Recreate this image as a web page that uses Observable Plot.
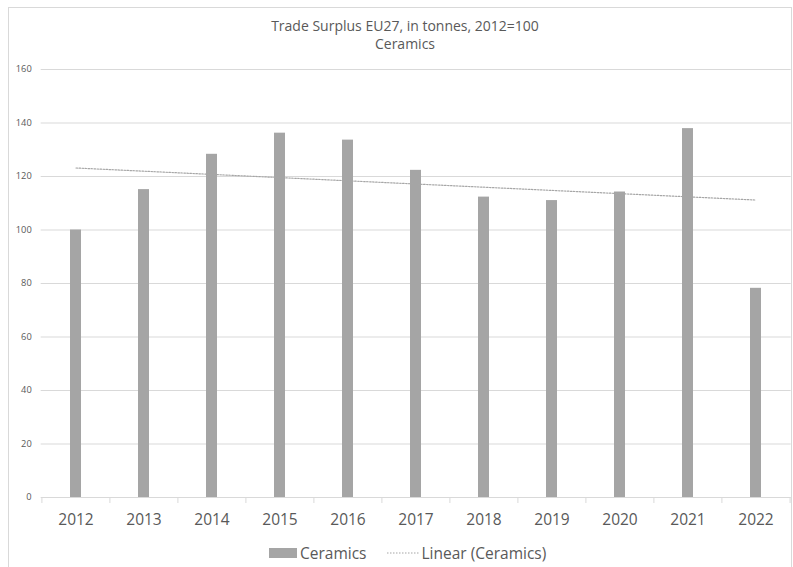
<!DOCTYPE html>
<html>
<head>
<meta charset="utf-8">
<script src="https://cdn.jsdelivr.net/npm/d3@7"></script>
<script src="https://cdn.jsdelivr.net/npm/@observablehq/plot@0.6"></script>
<style>
  body { margin: 0; background: #fff; font-family: "Open Sans", sans-serif; color: #595959; }
  #chart { position: relative; width: 793px; height: 567px; overflow: hidden; background: #fff; }
  #frame { position: absolute; left: 8px; top: 7px; width: 784px; height: 600px; border: 1px solid #d9d9d9; box-sizing: border-box; }
  .title { position: absolute; left: 8px; width: 794px; text-align: center; font-size: 14px; line-height: 14px; white-space: nowrap; }
  #plot { position: absolute; left: 0; top: 0; }
  #legend { position: absolute; left: 269px; top: 544px; display: flex; align-items: center; font-size: 15.5px; line-height: 18px; white-space: nowrap; }
  #legend .swatch { width: 28px; height: 10px; background: #a5a5a5; margin-right: 3px; }
  #legend svg { margin-left: 20px; margin-right: 3px; }
</style>
</head>
<body>
<div id="chart">
  <div id="frame"></div>
  <div id="plot"></div>
  <div class="title" style="top:19px">Trade Surplus EU27, in tonnes, 2012=100</div>
  <div class="title" style="top:37px">Ceramics</div>
  <div id="legend">
    <div class="swatch"></div><span>Ceramics</span>
    <svg width="32" height="4"><line x1="0" y1="2" x2="32" y2="2" stroke="#a6a6a6" stroke-width="1.2" stroke-dasharray="1.5,1.5"/></svg><span>Linear (Ceramics)</span>
  </div>
</div>
<script>
// Trade surplus of the EU27 in ceramics, indexed to 2012 = 100
const years = ["2012", "2013", "2014", "2015", "2016", "2017", "2018", "2019", "2020", "2021", "2022"];
const ceramics = [100, 115.1, 128.3, 136.2, 133.6, 122.3, 112.3, 111.0, 114.2, 137.9, 78.2];
const yTicks = [0, 20, 40, 60, 80, 100, 120, 140, 160];

const data = years.map((year, i) => ({year, value: ceramics[i]}));

// Least-squares linear trend over the year index
const idx = d3.range(years.length);
const meanX = d3.mean(idx);
const meanY = d3.mean(ceramics);
const slope = d3.sum(idx, i => (i - meanX) * (ceramics[i] - meanY)) / d3.sum(idx, i => (i - meanX) ** 2);
const trend = years.map((year, i) => ({year, value: meanY + slope * (i - meanX)}));

const width = 793, height = 567;
const marginLeft = 40.7, marginRight = 2.3;
const step = (width - marginLeft - marginRight) / years.length;

const chart = Plot.plot({
  width, height,
  marginTop: 69, marginBottom: 70, marginLeft, marginRight,
  style: {fontFamily: "'Open Sans', sans-serif", color: "#595959", background: "transparent", overflow: "visible"},
  x: {type: "band", domain: years, paddingInner: 0.834, paddingOuter: 0.417, axis: null, label: null},
  y: {domain: [0, 160], axis: null, label: null},
  marks: [
    Plot.gridY(yTicks, {stroke: "#d9d9d9", strokeOpacity: 1, strokeWidth: 1}),
    Plot.axisY(yTicks, {tickSize: 0, tickPadding: 9.5, fontSize: 9.3, fill: "#595959", label: null}),
    // category separators on the baseline
    Plot.ruleX(years, {x: d => d, y1: 0, y2: 0, insetBottom: -6, dx: -step / 2, stroke: "#d9d9d9"}),
    Plot.ruleX(years.slice(-1), {x: d => d, y1: 0, y2: 0, insetBottom: -6, dx: step / 2, stroke: "#d9d9d9"}),
    Plot.barY(data, {x: "year", y: "value", fill: "#a5a5a5"}),
    Plot.line(trend, {x: "year", y: "value", stroke: "#a6a6a6", strokeWidth: 1.2, strokeDasharray: "1.5,1.5"}),
    Plot.axisX({tickSize: 0, tickPadding: 16, fontSize: 15.5, fill: "#595959", label: null})
  ]
});
document.getElementById("plot").append(chart);
</script>
</body>
</html>
